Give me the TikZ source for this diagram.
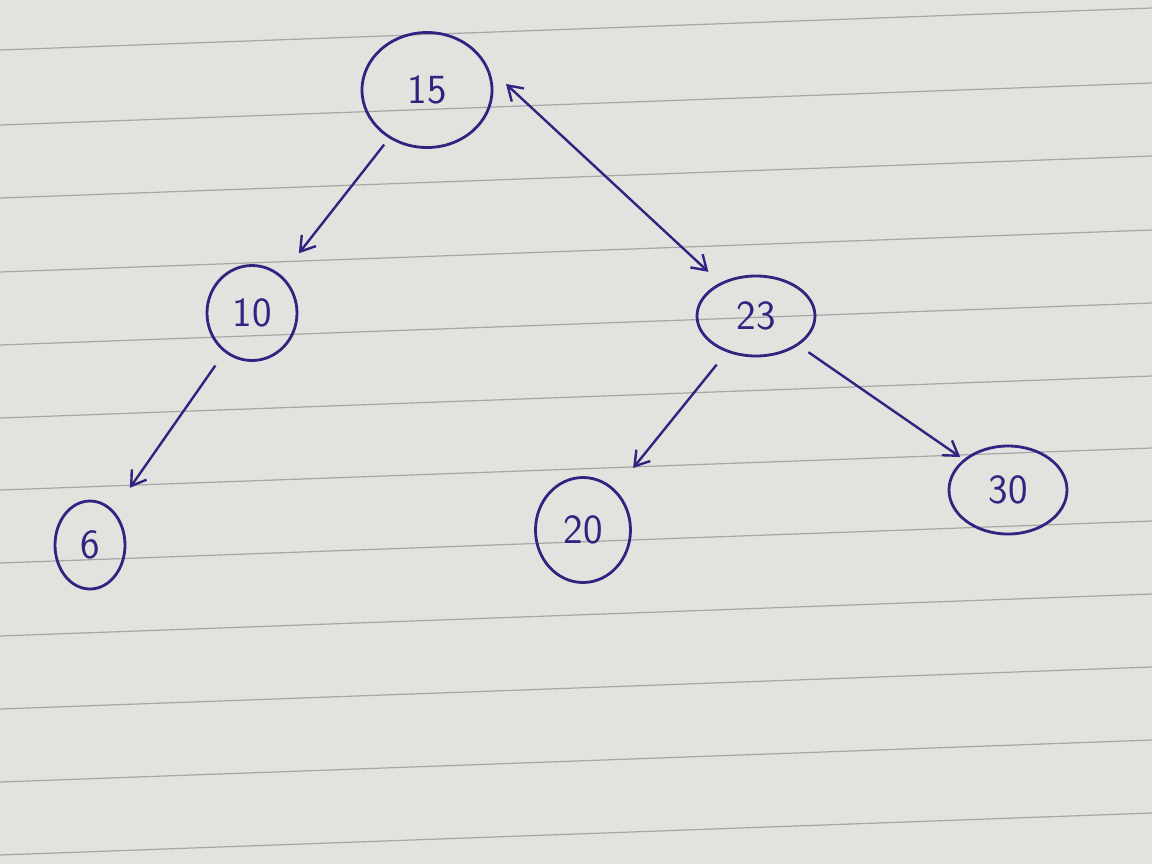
\documentclass[tikz,border=0pt]{standalone}
\usetikzlibrary{arrows.meta,shapes.geometric}
\definecolor{ink}{RGB}{48,36,128}
\definecolor{paper}{RGB}{226,226,223}
\begin{document}
\begin{tikzpicture}[x=0.5pt,y=-0.5pt,line width=1.2pt,draw=ink,>={Straight Barb[length=7pt,width=9pt]},
	key/.style={ellipse, draw=ink, line width=1.4pt, text=ink, inner sep=0pt, font=\huge\sffamily}]
	\fill[paper] (0,0) rectangle (1152,864);
	\useasboundingbox (0,0) rectangle (1152,864);
	% ruled lines of the sheet
	\foreach \y in {50,125,198,272,345,418,490,563,636,709,782,855}
		\draw[black!35, line width=0.6pt] (0,\y) -- (1152,\y-42);
	\node (K15) at ( 427,  90)	[key, minimum width=130*0.5pt, minimum height=115*0.5pt]	{15};
	\node (K10) at ( 252, 313)	[key, minimum width= 90*0.5pt, minimum height= 95*0.5pt]	{10};
	\node (K23) at ( 756, 316)	[key, minimum width=118*0.5pt, minimum height= 80*0.5pt]	{23};
	\node (K6)  at (  90, 545)	[key, minimum width= 70*0.5pt, minimum height= 88*0.5pt]	{6};
	\node (K20) at ( 583, 530)	[key, minimum width= 95*0.5pt, minimum height=105*0.5pt]	{20};
	\node (K30) at (1008, 490)	[key, minimum width=118*0.5pt, minimum height= 88*0.5pt]	{30};
	\draw[->, shorten <=4pt, shorten >=14pt] (K15) -- (K10);
	\draw[<->, shorten <=12pt, shorten >=8pt] (K15.20) -- (K23);
	\draw[->, shorten <=8pt, shorten >=14pt] (K10) -- (K6);
	\draw[->, shorten <=8pt, shorten >=14pt] (K23) -- (K20);
	\draw[->, shorten <=6pt, shorten >=2pt] (K23) -- (K30);
\end{tikzpicture}
\end{document}
